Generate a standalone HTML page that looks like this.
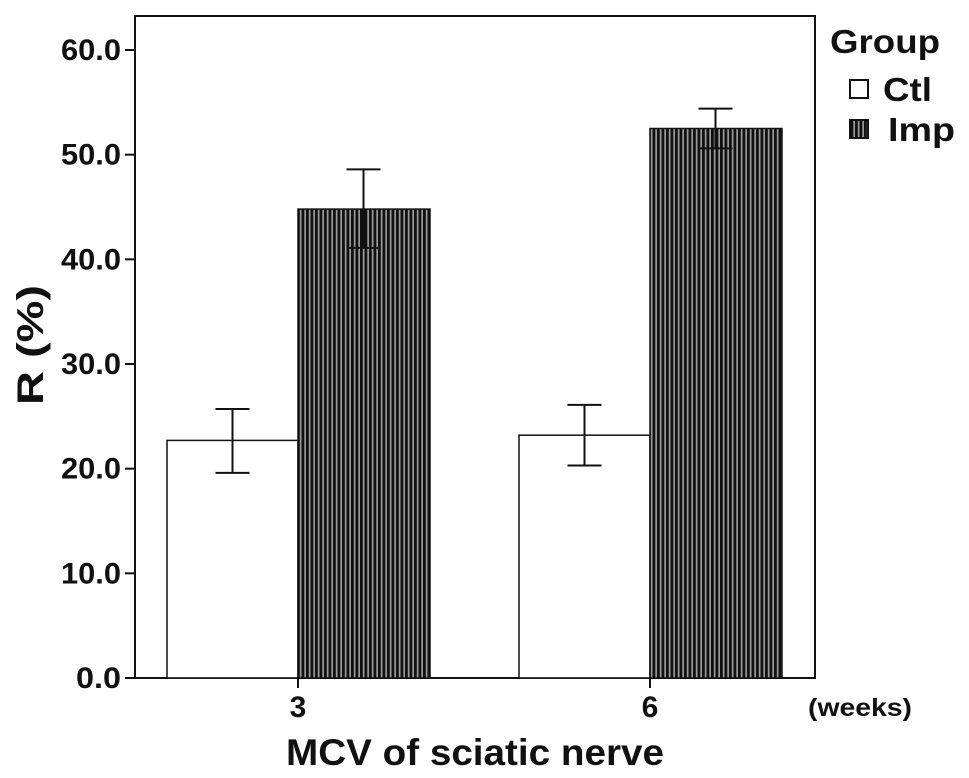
<!DOCTYPE html>
<html><head><meta charset="utf-8"><style>
html,body{margin:0;padding:0;background:#fff;}
svg{display:block;font-family:"Liberation Sans",Arial,sans-serif;font-weight:bold;}
</style></head><body>
<svg id="chart" width="969" height="778" viewBox="0 0 969 778">
<defs>
<pattern id="stripes" patternUnits="userSpaceOnUse" width="4.5" height="10">
<rect width="4.5" height="10" fill="#9a9a9a"/>
<rect width="2.8" height="10" fill="#111"/>
</pattern>
</defs>
</svg>
<script>
const categories = ["3", "6"];
const ctlValues = [22.7, 23.2];
const ctlLow = [19.6, 20.3];
const ctlHigh = [25.7, 26.1];
const impValues = [44.8, 52.5];
const impLow = [41.1, 50.6];
const impHigh = [48.6, 54.4];
const yTicks = [0, 10, 20, 30, 40, 50, 60];
const yTickLabels = ["0.0","10.0","20.0","30.0","40.0","50.0","60.0"];

const NS = "http://www.w3.org/2000/svg";
const svg = document.getElementById("chart");
const L = 135, R = 815, T = 16, B = 678;
const y = v => B - v * (678 - 50) / 60;
const catCenter = [298, 650];
const x = i => catCenter[i];
const barW = 131;

function mk(tag, attrs, parent) {
  const e = document.createElementNS(NS, tag);
  for (const k in attrs) e.setAttribute(k, attrs[k]);
  (parent || svg).appendChild(e);
  return e;
}

const frame = mk("rect", {x:L, y:T, width:R-L, height:B-T, fill:"none", stroke:"#111", "stroke-width":2});



yTicks.forEach((t, i) => {
  const tk = mk("line", {x1:L-10, x2:L, y1:y(t), y2:y(t), stroke:"#111", "stroke-width":2});
  
  
  const s = yTickLabels[i];
  const lb = mk("text", {x:L-14, y:y(t)+10, "text-anchor":"end", "font-size":30, fill:"#111", textLength: s.length*15, lengthAdjust:"spacingAndGlyphs"});
  lb.textContent = s;
  
  
});

function errBar(cx, lo, hi, name) {
  const g = mk("g", {stroke:"#111", "stroke-width":2});
  
  
  mk("line", {x1:cx, x2:cx, y1:y(lo), y2:y(hi)}, g);
  mk("line", {x1:cx-17, x2:cx+17, y1:y(hi), y2:y(hi)}, g);
  mk("line", {x1:cx-17, x2:cx+17, y1:y(lo), y2:y(lo)}, g);
}

categories.forEach((c, i) => {
  const cx = x(i);
  const b1 = mk("rect", {x:cx-barW, y:y(ctlValues[i]), width:barW, height:B-y(ctlValues[i]), fill:"#fff", stroke:"#111", "stroke-width":1.5});
  
  
  const b2 = mk("rect", {x:cx, y:y(impValues[i]), width:barW+1, height:B-y(impValues[i]), fill:"url(#stripes)", stroke:"#111", "stroke-width":1.5});
  
  
  errBar(cx - barW/2, ctlLow[i], ctlHigh[i], 'error-bar-ctl-' + c);
  errBar(cx + barW/2, impLow[i], impHigh[i], 'error-bar-imp-' + c);
  const tk = mk("line", {x1:cx, x2:cx, y1:B, y2:B+10, stroke:"#111", "stroke-width":2});
  
  
  const lb = mk("text", {x:cx, y:B+39, "text-anchor":"middle", "font-size":30, fill:"#111"});
  lb.textContent = c;
  
  
});

function txt(s, attrs, name) {
  const t = mk("text", attrs);
  t.textContent = s;
  
  
  return t;
}
txt("(weeks)", {x:808, y:716, "font-size":25, fill:"#111", textLength:104, lengthAdjust:"spacingAndGlyphs"}, 'x-unit-label');
txt("MCV of sciatic nerve", {x:286, y:765, "font-size":37, fill:"#111", textLength:378, lengthAdjust:"spacingAndGlyphs"}, 'x-axis-title');
txt("R (%)", {x:43, y:345, "text-anchor":"middle", "font-size":37, fill:"#111", textLength:120, lengthAdjust:"spacingAndGlyphs", transform:"rotate(-90 43 345)"}, 'y-axis-title');
txt("Group", {x:830, y:53, "font-size":33, fill:"#111", textLength:110, lengthAdjust:"spacingAndGlyphs"}, 'legend-title');
const lg1 = mk("rect", {x:850, y:80, width:18, height:18, fill:"#fff", stroke:"#111", "stroke-width":2});


txt("Ctl", {x:883, y:101, "font-size":33, fill:"#111", textLength:49, lengthAdjust:"spacingAndGlyphs"}, 'legend-label-ctl');
const lg2 = mk("rect", {x:850, y:120, width:18, height:18, fill:"url(#stripes)", stroke:"#111", "stroke-width":2});


txt("Imp", {x:888, y:141, "font-size":33, fill:"#111", textLength:67, lengthAdjust:"spacingAndGlyphs"}, 'legend-label-imp');
</script>
</body></html>
